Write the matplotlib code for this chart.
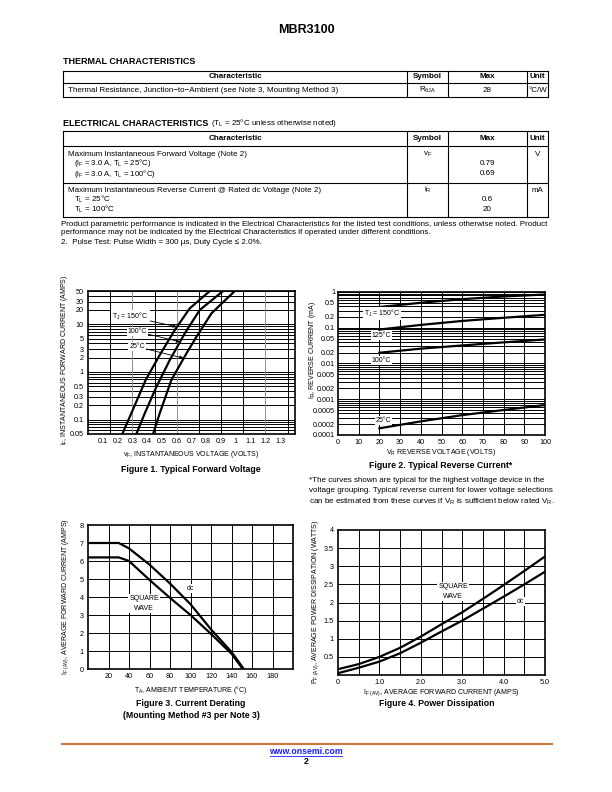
import numpy as np
import matplotlib
matplotlib.use("Agg")
import matplotlib.pyplot as plt
from matplotlib.lines import Line2D

plt.rcParams['font.family'] = ['Liberation Sans', 'DejaVu Sans']
plt.rcParams['mathtext.default'] = 'regular'

W, H = 612, 792

# ---- data ----
# Figure 1: forward voltage (V) vs forward current (A)
vf_150 = [0.232, 0.293, 0.39, 0.485, 0.587, 0.688, 0.824]
if_150 = [0.05, 0.136, 0.68, 2.27, 7.6, 21.6, 50]
vf_100 = [0.327, 0.384, 0.463, 0.553, 0.655, 0.756, 0.914]
if_100 = [0.05, 0.136, 0.49, 1.78, 6.5, 20, 50]
vf_25 = [0.44, 0.485, 0.564, 0.666, 0.734, 0.835, 0.993]
if_25 = [0.05, 0.136, 0.68, 2.46, 5.5, 17, 50]
f1_xticks = [0.1, 0.2, 0.3, 0.4, 0.5, 0.6, 0.7, 0.8, 0.9, 1.0, 1.1, 1.2, 1.3]
f1_xlabels = ['0.1', '0.2', '0.3', '0.4', '0.5', '0.6', '0.7', '0.8', '0.9', '1', '1.1', '1.2', '1.3']
f1_yticks = [0.05, 0.1, 0.2, 0.3, 0.5, 1, 2, 3, 5, 10, 20, 30, 50]
f1_ylabels = ['0.05', '0.1', '0.2', '0.3', '0.5', '1', '2', '3', '5', '10', '20', '30', '50']

# Figure 2: reverse voltage (V) vs reverse current (mA)
vr = [20, 40, 60, 80, 100]
ir_150 = [0.38, 0.5, 0.63, 0.75, 0.85]
ir_125 = [0.089, 0.12, 0.155, 0.19, 0.23]
ir_100 = [0.02, 0.026, 0.032, 0.039, 0.047]
ir_25 = [0.000154, 0.00024, 0.00036, 0.0005, 0.00069]
f2_yticks = [1, 0.5, 0.2, 0.1, 0.05, 0.02, 0.01, 0.005, 0.002, 0.001, 0.0005, 0.0002, 0.0001]
f2_ylabels = ['1', '0.5', '0.2', '0.1', '0.05', '0.02', '0.01', '0.005', '0.002', '0.001',
              '0.0005', '0.0002', '0.0001']

# Figure 3: current derating
ta_dc = [0, 30, 40, 60, 80, 100, 120, 140, 152]
iav_dc = [7.0, 7.0, 6.7, 5.8, 4.75, 3.6, 2.2, 0.95, 0]
ta_sq = [0, 30, 40, 60, 80, 100, 120, 140, 151]
iav_sq = [6.2, 6.2, 6.0, 4.95, 3.95, 3.0, 1.95, 0.85, 0]

# Figure 4: power dissipation
if_av = [0, 0.5, 1, 1.5, 2, 2.5, 3, 3.5, 4, 4.5, 5]
pf_sq = [0.16, 0.3, 0.5, 0.75, 1.06, 1.4, 1.73, 2.1, 2.48, 2.87, 3.27]
pf_dc = [0.05, 0.2, 0.37, 0.6, 0.89, 1.2, 1.5, 1.83, 2.16, 2.5, 2.85]

fig = plt.figure(figsize=(W / 100, H / 100), dpi=100)
bg = fig.add_axes([0, 0, 1, 1])
bg.set_xlim(0, W)
bg.set_ylim(H, 0)
bg.axis('off')

FS = 5.8
TK = 5.2


def t(x, y, s, size=FS, ha='left', **kw):
    bg.text(x, y, s, fontsize=size, ha=ha, va='center', **kw)


def hline(x0, x1, y, lw=0.8, color='black'):
    bg.add_line(Line2D([x0, x1], [y, y], lw=lw, color=color))


def vline(x, y0, y1, lw=0.8):
    bg.add_line(Line2D([x, x], [y0, y1], lw=lw, color='black'))


def px_axes(l, top, r, b):
    return fig.add_axes([l / W, 1 - b / H, (r - l) / W, (b - top) / H])


# ---- page header and tables ----
t(306, 30, 'MBR3100', size=9, ha='center', weight='bold')

cols = [63, 407, 448, 527, 548]
t(63, 61, 'THERMAL CHARACTERISTICS', size=6.5, weight='bold')
rows1 = [71, 83, 97]
for y in rows1:
    hline(cols[0], cols[-1], y)
for x in cols:
    vline(x, rows1[0], rows1[-1])
heads = ['Characteristic', 'Symbol', 'Max', 'Unit']
for i, h in enumerate(heads):
    t((cols[i] + cols[i + 1]) / 2, 77, h, ha='center', weight='bold')
t(68, 90, 'Thermal Resistance, Junction\u2212to\u2212Ambient (see Note 3, Mounting Method 3)')
t(427.5, 90, r'$R_{\theta JA}$', ha='center')
t(487.5, 90, '28', ha='center')
t(537.5, 90, '\u00b0C/W', ha='center')

t(63, 123, 'ELECTRICAL CHARACTERISTICS', size=6.5, weight='bold')
t(211, 123, '($T_L$ = 25\u00b0C unless otherwise noted)')
rows2 = [131, 146, 183, 217]
for y in rows2:
    hline(cols[0], cols[-1], y)
for x in cols:
    vline(x, rows2[0], rows2[-1])
for i, h in enumerate(heads):
    t((cols[i] + cols[i + 1]) / 2, 139, h, ha='center', weight='bold')
t(68, 154, 'Maximum Instantaneous Forward Voltage (Note 2)')
t(74, 163, '($i_F$ = 3.0 A, $T_L$ = 25\u00b0C)', size=5.6)
t(74, 174, '($i_F$ = 3.0 A, $T_L$ = 100\u00b0C)', size=5.6)
t(427.5, 154, '$v_F$', ha='center')
t(487.5, 163.5, '0.79', ha='center')
t(487.5, 173.5, '0.69', ha='center')
t(537.5, 154, 'V', ha='center')
t(68, 190, 'Maximum Instantaneous Reverse Current @ Rated dc Voltage (Note 2)')
t(74, 199.5, '$T_L$ = 25\u00b0C')
t(74, 209.5, '$T_L$ = 100\u00b0C')
t(427.5, 190, '$i_R$', ha='center')
t(487.5, 199.5, '0.6', ha='center')
t(487.5, 209.5, '20', ha='center')
t(537.5, 190, 'mA', ha='center')

t(61, 224, 'Product parametric performance is indicated in the Electrical Characteristics for the listed test '
           'conditions, unless otherwise noted. Product')
t(61, 233, 'performance may not be indicated by the Electrical Characteristics if operated under different conditions.')
t(61, 242, '2.  Pulse Test: Pulse Width = 300 \u03bcs, Duty Cycle \u2264 2.0%.')


def style(ax):
    for s in ax.spines.values():
        s.set_linewidth(1.2)
    ax.tick_params(length=0, labelsize=TK, pad=3)


def log_grid(ax, lo, hi):
    d = 10.0 ** np.floor(np.log10(lo))
    while d < hi * 1.001:
        for k in range(1, 10):
            v = k * d
            if lo * 0.999 <= v <= hi * 1.001:
                ax.axhline(v, color='black', lw=0.7, zorder=1)
        d *= 10


box = dict(boxstyle='square,pad=0.15', fc='white', ec='none')
arrow = dict(arrowstyle='-|>', lw=0.6, color='black', mutation_scale=5, shrinkA=0, shrinkB=0)

# ---- Figure 1 ----
ax1 = px_axes(88, 291, 295, 434)
ax1.set_yscale('log')
ax1.set_xlim(0, 1.4)
ax1.set_ylim(0.05, 50)
log_grid(ax1, 0.05, 50)
for k in range(1, 10):
    x = 0.15 * k
    grey = k in (2, 4, 8)
    ax1.axvline(x, color='#909090' if grey else 'black', lw=0.7, zorder=1)
ax1.plot(vf_150, if_150, color='black', lw=1.6, zorder=3)
ax1.plot(vf_100, if_100, color='black', lw=1.6, zorder=3)
ax1.plot(vf_25, if_25, color='black', lw=1.6, zorder=3)
ax1.set_xticks(f1_xticks)
ax1.set_xticklabels(f1_xlabels)
ax1.set_yticks(f1_yticks)
ax1.set_yticklabels(f1_ylabels)
ax1.minorticks_off()
style(ax1)
ax1.annotate(r'$T_J$ = 150$\degree$C', xy=(0.60, 8.9), xytext=(0.287, 14.5), fontsize=5,
             ha='center', va='center', bbox=box, arrowprops=arrow, zorder=5)
ax1.annotate('100\u00b0C', xy=(0.622, 4.3), xytext=(0.335, 7.0), fontsize=5,
             ha='center', va='center', bbox=box, arrowprops=arrow, zorder=5)
ax1.annotate('25\u00b0C', xy=(0.645, 1.95), xytext=(0.331, 3.4), fontsize=5,
             ha='center', va='center', bbox=box, arrowprops=arrow, zorder=5)
t(191, 454, '$v_F$, INSTANTANEOUS VOLTAGE (VOLTS)', size=5, ha='center')
bg.text(64, 360, '$i_F$, INSTANTANEOUS FORWARD CURRENT (AMPS)', fontsize=5, rotation=90,
        ha='center', va='center')
t(191, 469, 'Figure 1. Typical Forward Voltage', size=6.3, ha='center', weight='bold')

# ---- Figure 2 ----
ax2 = px_axes(338, 292, 545, 435)
ax2.set_yscale('log')
ax2.set_xlim(0, 100)
ax2.set_ylim(0.0001, 1)
log_grid(ax2, 0.0001, 1)
for x in range(10, 100, 10):
    ax2.axvline(x, color='black', lw=0.7, zorder=1)
for ir in (ir_150, ir_125, ir_100, ir_25):
    ax2.plot(vr, ir, color='black', lw=1.6, zorder=3)
ax2.set_xticks(range(0, 101, 10))
ax2.set_yticks(f2_yticks)
ax2.set_yticklabels(f2_ylabels)
ax2.minorticks_off()
style(ax2)
ax2.tick_params(axis='y', pad=2)
ax2.text(21.2, 0.25, r'$T_J$ = 150$\degree$C', fontsize=5, ha='center', va='center', bbox=box, zorder=5)
ax2.text(21.0, 0.062, '125\u00b0C', fontsize=5, ha='center', va='center', bbox=box, zorder=5)
ax2.text(21.0, 0.0124, '100\u00b0C', fontsize=5, ha='center', va='center', bbox=box, zorder=5)
ax2.text(22.0, 0.00026, '25\u00b0C', fontsize=5, ha='center', va='center', bbox=box, zorder=5)
t(441, 452, '$V_R$ REVERSE VOLTAGE (VOLTS)', size=5, ha='center')
bg.text(312, 350, '$I_R$, REVERSE CURRENT (mA)', fontsize=5, rotation=90, ha='center', va='center')
t(441, 466, 'Figure 2. Typical Reverse Current*', size=6.3, ha='center', weight='bold')
t(309, 480, '*The curves shown are typical for the highest voltage device in the')
t(309, 491, 'voltage grouping. Typical reverse current for lower voltage selections')
t(309, 502, 'can be estimated from these curves if $V_R$ is sufficient below rated $V_R$.')

# ---- Figure 3 ----
ax3 = px_axes(88, 525, 293, 669)
ax3.set_xlim(0, 200)
ax3.set_ylim(0, 8)
for x in range(20, 200, 20):
    ax3.axvline(x, color='black', lw=0.7, zorder=1)
for y in range(1, 8):
    ax3.axhline(y, color='black', lw=0.7, zorder=1)
ax3.plot(ta_dc, iav_dc, color='black', lw=1.6, zorder=3)
ax3.plot(ta_sq, iav_sq, color='black', lw=1.6, zorder=3)
ax3.set_xticks(range(20, 181, 20))
ax3.set_yticks(range(0, 9))
style(ax3)
ax3.text(100, 4.45, 'dc', fontsize=5, ha='center', va='center', bbox=box, zorder=5)
ax3.text(55, 3.63, 'SQUARE\nWAVE', fontsize=5, ha='center', va='center', linespacing=1.6,
         bbox=box, zorder=5)
t(191, 690, '$T_A$, AMBIENT TEMPERATURE (\u00b0C)', size=5, ha='center')
bg.text(66, 597, '$I_{F\\ (AV)}$, AVERAGE FORWARD CURRENT (AMPS)', fontsize=5, rotation=90,
        ha='center', va='center')
t(191, 703, 'Figure 3. Current Derating', size=6.3, ha='center', weight='bold')
t(191, 715, '(Mounting Method #3 per Note 3)', size=6.3, ha='center', weight='bold')

# ---- Figure 4 ----
ax4 = px_axes(338, 530, 545, 675)
ax4.set_xlim(0, 5)
ax4.set_ylim(0, 4)
for x in np.arange(0.5, 5, 0.5):
    ax4.axvline(x, color='black', lw=0.7, zorder=1)
for y in np.arange(0.5, 4, 0.5):
    ax4.axhline(y, color='black', lw=0.7, zorder=1)
ax4.plot(if_av, pf_sq, color='black', lw=1.6, zorder=3)
ax4.plot(if_av, pf_dc, color='black', lw=1.6, zorder=3)
ax4.set_xticks([0, 1, 2, 3, 4, 5])
ax4.set_xticklabels(['0', '1.0', '2.0', '3.0', '4.0', '5.0'])
ax4.set_yticks([0.5, 1, 1.5, 2, 2.5, 3, 3.5, 4])
ax4.set_yticklabels(['0.5', '1', '1.5', '2', '2.5', '3', '3.5', '4'])
style(ax4)
ax4.text(2.78, 2.31, 'SQUARE\nWAVE', fontsize=5, ha='center', va='center', linespacing=1.6,
         bbox=box, zorder=5)
ax4.text(4.41, 2.04, 'dc', fontsize=5, ha='center', va='center', bbox=box, zorder=5)
t(441, 693, '$I_{F\\ (AV)}$, AVERAGE FORWARD CURRENT (AMPS)', size=5, ha='center')
bg.text(316, 602, '$P_{F\\ (AV)}$, AVERAGE POWER DISSIPATION (WATTS)', fontsize=5, rotation=90,
        ha='center', va='center')
t(437, 703, 'Figure 4. Power Dissipation', size=6.3, ha='center', weight='bold')

# ---- footer ----
hline(62, 552, 744, lw=1.5, color='#d2773a')
bg.text(306, 752, 'www.onsemi.com', fontsize=6.3, ha='center', va='center', weight='bold',
        color='#1a1aff')
hline(270, 342, 756, lw=0.6, color='#1a1aff')
t(306, 762, '2', size=6.3, ha='center', weight='bold')

fig.savefig('out.png', dpi=100)
